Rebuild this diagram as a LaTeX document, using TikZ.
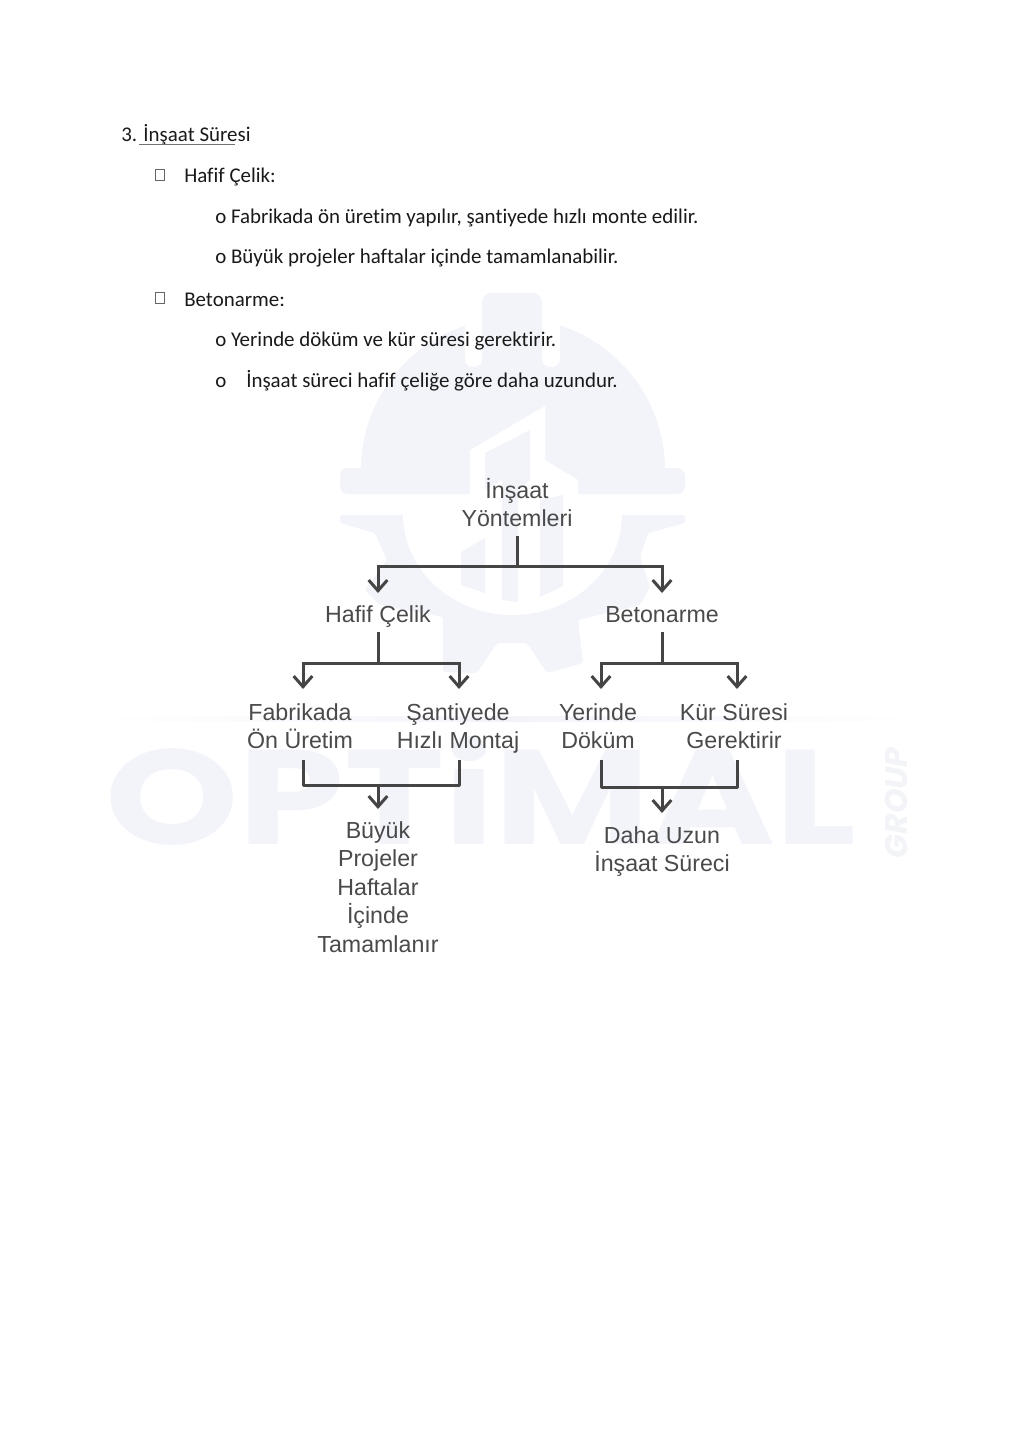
\documentclass[tikz,border=0pt]{standalone}
\usepackage{fontspec}
\setmainfont[Ligatures=NoCommon]{Carlito}
\newfontfamily\dgfont{Liberation Sans}
\newfontfamily\wmfont{Poppins}
\usetikzlibrary{arrows.meta}
\definecolor{wm}{HTML}{F2F4FA}
\definecolor{wmg}{HTML}{F3F4F7}
\definecolor{ink}{HTML}{4A4A4A}
\definecolor{linec}{HTML}{454545}
\newcommand{\dgsel}{\dgfont\fontsize{17.4pt}{21.4pt}\selectfont\setlength{\lineskiplimit}{-20pt}\setlength{\lineskip}{0pt}}
\newcommand{\bodysel}{\fontsize{15.7pt}{19pt}\selectfont}
\newcommand{\wmsel}{\wmfont\bfseries\fontsize{104pt}{104pt}\selectfont}
\newcommand{\wmgsel}{\wmfont\bfseries\itshape\fontsize{23.5pt}{24pt}\selectfont}
\tikzset{
 bodytxt/.style={anchor=base west,inner sep=0,font=\bodysel,text=black!90},
 dg/.style={align=center,inner sep=0,anchor=north,text=ink,font=\dgsel},
 conn/.style={draw=linec,line width=2.25pt},
 tip/.style={conn,-{Straight Barb[length=8pt,width=14pt,line width=2.25pt]}},
 bul/.style={draw=black!60,line width=0.5pt,inner sep=0,minimum width=6.75pt,minimum height=8.25pt},
}
\begin{document}
\begin{tikzpicture}[x=0.75pt,y=-0.75pt]
\useasboundingbox (0,0) rectangle (1025,1450);
\fill[white] (0,0) rectangle (1025,1450);
% watermark
\fill[wm] (361,470) arc[start angle=180,end angle=360,radius=152] -- cycle;
\fill[wm,rounded corners=6pt] (340,468) rectangle (685,494);
\fill[white,rounded corners=6pt] (465,290) rectangle (482,367);
\fill[white,rounded corners=6pt] (542,290) rectangle (560,367);
\fill[white] (465,290) rectangle (560,345);
\fill[wm,rounded corners=7pt] (482,293) rectangle (542,370);
\fill[white] (470,450) -- (470,500) -- (578,500) -- (578,480) -- (545,460) -- (545,406) -- cycle;
\fill[wm,rounded corners=2pt] (340,515) -- (403,515) -- (622,515) -- (685,515) -- (685,523) -- (648,533) -- (640,557) -- (650,587) -- (640,605) -- (578,620) -- (583,663) -- (547,673) -- (527,643) -- (497,643) -- (477,673) -- (443,672) -- (443,617) -- (380,605) -- (365,590) -- (387,560) -- (375,533) -- (340,523) -- cycle;
\fill[white] (403,514) arc[x radius=109.5,y radius=101,start angle=180,end angle=0] -- cycle;
\fill[wm] (485,453) -- (530,430) -- (530,480) -- (518,490) -- (518,602) -- (502,600) -- (502,480) -- (485,490) -- cycle;
\fill[wm] (461,552) -- (485,538) -- (485,593) -- (461,585) -- cycle;
\fill[wm] (540,500) -- (563,495) -- (563,586) -- (540,597) -- cycle;
\shade[left color=white,right color=wm] (100,716) rectangle (510,721);
\shade[left color=wm,right color=white] (510,716) rectangle (920,721);
\node[inner sep=0,text=wm,font=\wmsel,xscale=1.224,yscale=0.97,anchor=center] (wmt) at (481,791) {OPTiMAL};
\node[inner sep=0,text=wmg,font=\wmgsel,rotate=90,anchor=center] (wmgt) at (896,803) {GROUP};
% body text
\node[bodytxt] (t1) at (121,141) {3. İnşaat Süresi};
\draw[black!55,line width=0.6pt] (139,144) -- (235,144);
\node[bul] (b1) at (159.5,174.5) {};
\node[bodytxt] (t2) at (184,182.5) {Hafif Çelik:};
\node[bodytxt] (t3) at (215,223) {o Fabrikada ön üretim yapılır, şantiyede hızlı monte edilir.};
\node[bodytxt] (t4) at (215,263) {o Büyük projeler haftalar içinde tamamlanabilir.};
\node[bul] (b2) at (159.5,298) {};
\node[bodytxt] (t5) at (184,306) {Betonarme:};
\node[bodytxt] (t6) at (215,346) {o Yerinde döküm ve kür süresi gerektirir.};
\node[bodytxt] (t7) at (215,387.5) {o};
\node[bodytxt] (t8) at (246,387.5) {İnşaat süreci hafif çeliğe göre daha uzundur.};
% diagram nodes
\node[dg] (root) at (517,478) {\strut İnşaat\\\strut Yöntemleri};
\node[dg] (haf) at (378,602.5) {\strut Hafif Çelik};
\node[dg] (bet) at (662,602.5) {\strut Betonarme};
\node[dg] (fab) at (300,700) {\strut Fabrikada\\\strut Ön Üretim};
\node[dg] (san) at (458,700) {\strut Şantiyede\\\strut Hızlı Montaj};
\node[dg] (yer) at (598,700) {\strut Yerinde\\\strut Döküm};
\node[dg] (kur) at (734,700) {\strut Kür Süresi\\\strut Gerektirir};
\node[dg] (buy) at (378,818) {\strut Büyük\\\strut Projeler\\\strut Haftalar\\\strut İçinde\\\strut Tamamlanır};
\node[dg] (dah) at (662,823) {\strut Daha Uzun\\\strut İnşaat Süreci};
% junctions
\coordinate (j0) at (517,566);
\coordinate (j1) at (378,663);
\coordinate (j2) at (662,663);
\coordinate (j3) at (378,785);
\coordinate (j4) at (662,787);
\coordinate (ja1) at (378,593);
\coordinate (ja2) at (662,593);
\coordinate (ja3) at (303,689);
\coordinate (ja4) at (459,689);
\coordinate (ja5) at (601,689);
\coordinate (ja6) at (737,689);
\coordinate (ja7) at (378,809);
\coordinate (ja8) at (662,813);
\coordinate (s1) at (303,760);
\coordinate (s2) at (459,760);
\coordinate (s3) at (601,760);
\coordinate (s4) at (737,760);
% connectors
\draw[conn] (root.south) -- (j0);
\draw[tip] (j0) -| (ja1);
\draw[tip] (j0) -| (ja2);
\draw[conn] (haf.south) -- (j1);
\draw[conn] (bet.south) -- (j2);
\draw[tip] (j1) -| (ja3);
\draw[tip] (j1) -| (ja4);
\draw[tip] (j2) -| (ja5);
\draw[tip] (j2) -| (ja6);
\draw[conn,line join=round] (s1) |- (j3);
\draw[conn,line join=round] (s2) |- (j3);
\draw[conn,line join=round] (s3) |- (j4);
\draw[conn,line join=round] (s4) |- (j4);
\draw[tip] (j3) -- (ja7);
\draw[tip] (j4) -- (ja8);
\end{tikzpicture}
\end{document}
